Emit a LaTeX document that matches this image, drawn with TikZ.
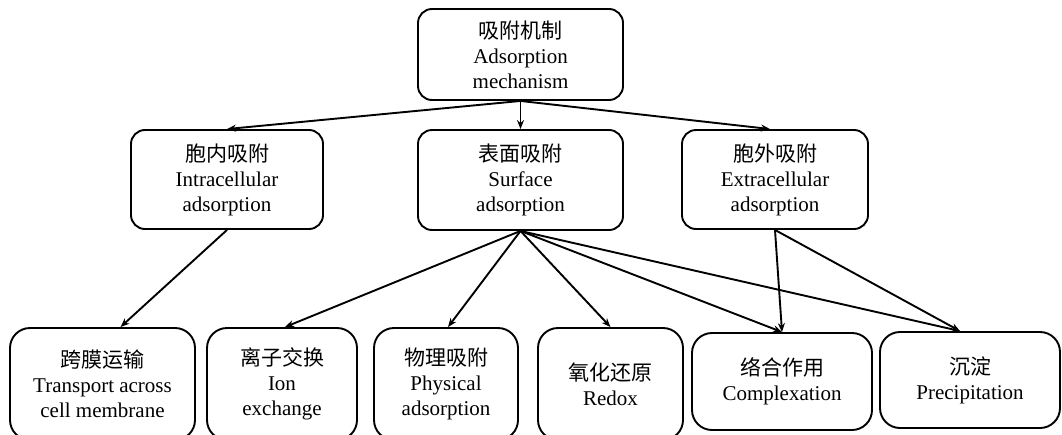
\documentclass[tikz,border=0pt]{standalone}
\usepackage{fontspec}
\setmainfont{Liberation Serif}
\newfontfamily\cjk{Noto Sans CJK SC}
\usetikzlibrary{arrows.meta}

\begin{document}
\begin{tikzpicture}[x=1pt, y=-1pt, line width=1.9pt, >={Stealth[length=9pt,width=7pt]}]
            \tikzstyle{box} = [rectangle, rounded corners=14pt, draw=black, align=center, font=\fontsize{21}{25}\selectfont]
            \tikzstyle{leaf} = [box, rounded corners=20pt]

            \useasboundingbox (0,0) rectangle (1062,434);

            \node[box, minimum width=205, minimum height=91] (mech) at (520.5, 54.5) {{\cjk 吸附机制}\\Adsorption\\mechanism};

            \node[box, minimum width=192, minimum height=99] (intra) at (227, 179.5) {{\cjk 胞内吸附}\\Intracellular\\adsorption};
            \node[box, minimum width=205, minimum height=100] (surf) at (520.5, 180) {{\cjk 表面吸附}\\Surface\\adsorption};
            \node[box, minimum width=186, minimum height=99] (extra) at (775, 179.5) {{\cjk 胞外吸附}\\Extracellular\\adsorption};

            \node[leaf, minimum width=185, minimum height=112] (trans) at (102.5, 384) {{\cjk 跨膜运输}\\Transport across\\cell membrane};
            \node[leaf, minimum width=150, minimum height=112] (ion) at (282, 384) {{\cjk 离子交换}\\Ion\\exchange};
            \node[leaf, minimum width=144, minimum height=112] (phys) at (446, 384) {{\cjk 物理吸附}\\Physical\\adsorption};
            \node[leaf, minimum width=145, minimum height=112] (redox) at (610.5, 384) {{\cjk 氧化还原}\\Redox};
            \node[leaf, minimum width=180, minimum height=97] (compl) at (782, 381.5) {{\cjk 络合作用}\\Complexation};
            \node[leaf, minimum width=180, minimum height=96] (prec) at (970, 380) {{\cjk 沉淀}\\Precipitation};

            \draw [->] (mech.south) -- (intra.north);
            \draw [->] (mech.south) -- (surf.north);
            \draw [->] (mech.south) -- ([xshift=-5pt]extra.north);

            \draw [->] (intra.south) -- ([xshift=18pt]trans.north);

            \draw [->] (surf.south) -- ([xshift=3pt]ion.north);
            \draw [->] (surf.south) -- ([xshift=2pt]phys.north);
            \draw [->] (surf.south) -- (redox.north);
            \draw [->] (surf.south) -- (compl.north);
            \draw [->] (surf.south) -- ([xshift=-10pt]prec.north);

            \draw [->] (extra.south) -- (compl.north);
            \draw [->] (extra.south) -- ([xshift=-10pt]prec.north);
          \end{tikzpicture}
\end{document}
